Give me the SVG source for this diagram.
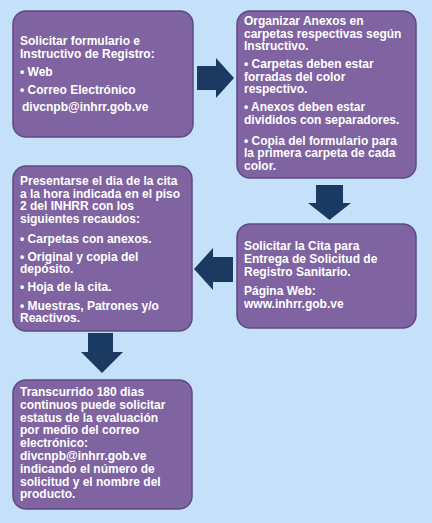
<svg xmlns="http://www.w3.org/2000/svg" width="432" height="523" viewBox="0 0 432 523">
<style>
.box{fill:#8064a2;stroke:#5e4a85;stroke-width:1.5}
.t{font-family:"Liberation Sans",Arial,sans-serif;font-size:12px;font-weight:bold;fill:#ffffff}
.arr{fill:#1a3a62}
</style>
<rect x="0" y="0" width="432" height="523" fill="#c5e1f9"/>
<g id="connectors">
<polygon class="arr" points="197,66 216,66 216,58 234,78 216,98 216,90 197,90"/>
<polygon class="arr" points="316,185 343,185 343,203 351,203 329.5,220 308,203 316,203"/>
<polygon class="arr" points="233,257 213,257 213,248 194,269 213,290 213,282 233,282"/>
<polygon class="arr" points="88,333 113,333 113,352 123,352 102,373 81,352 88,352"/>
</g>
<g id="node1">
<rect class="box" x="13" y="11" width="180" height="126" rx="13"/>
<text class="t"><tspan x="20" y="45">Solicitar formulario e</tspan><tspan x="20" y="57.5">Instructivo de Registro:</tspan><tspan x="20" y="75.5">• Web</tspan><tspan x="20" y="93.5">• Correo Electrónico</tspan><tspan x="22" y="111">divcnpb@inhrr.gob.ve</tspan></text>
</g>
<g id="node2">
<rect class="box" x="237" y="11" width="179" height="167" rx="13"/>
<text class="t"><tspan x="244" y="25">Organizar Anexos en</tspan><tspan x="244" y="37.5">carpetas respectivas según</tspan><tspan x="244" y="50">Instructivo.</tspan><tspan x="244" y="68">• Carpetas deben estar</tspan><tspan x="244" y="80.5">forradas del color</tspan><tspan x="244" y="93">respectivo.</tspan><tspan x="244" y="111">• Anexos deben estar</tspan><tspan x="244" y="123.5">divididos con separadores.</tspan><tspan x="244" y="144.5">• Copia del formulario para</tspan><tspan x="244" y="157">la primera carpeta de cada</tspan><tspan x="244" y="169.5">color.</tspan></text>
</g>
<g id="node3">
<rect class="box" x="13" y="166" width="179" height="165" rx="13"/>
<text class="t"><tspan x="20" y="185">Presentarse el dia de la cita</tspan><tspan x="20" y="197.5">a la hora indicada en el piso</tspan><tspan x="20" y="210">2 del INHRR con los</tspan><tspan x="20" y="222.5">siguientes recaudos:</tspan><tspan x="20" y="242.5">• Carpetas con anexos.</tspan><tspan x="20" y="260.5">• Original  y copia del</tspan><tspan x="20" y="273">depósito.</tspan><tspan x="20" y="291">• Hoja de la cita.</tspan><tspan x="20" y="309.5">• Muestras, Patrones y/o</tspan><tspan x="20" y="322">Reactivos.</tspan></text>
</g>
<g id="node4">
<rect class="box" x="237" y="224" width="179" height="104" rx="13"/>
<text class="t"><tspan x="244" y="250">Solicitar la Cita para</tspan><tspan x="244" y="263">Entrega de Solicitud de</tspan><tspan x="244" y="276">Registro Sanitario.</tspan><tspan x="244" y="295">Página Web:</tspan><tspan x="244" y="307.5">www.inhrr.gob.ve</tspan></text>
</g>
<g id="node5">
<rect class="box" x="13" y="380" width="179" height="129" rx="13"/>
<text class="t"><tspan x="20" y="396">Transcurrido 180 dias</tspan><tspan x="20" y="408.8">continuos puede solicitar</tspan><tspan x="20" y="421.6">estatus de la evaluación</tspan><tspan x="20" y="434.4">por medio del correo</tspan><tspan x="20" y="447.2">electrónico:</tspan><tspan x="20" y="460">divcnpb@inhrr.gob.ve</tspan><tspan x="20" y="472.8">indicando el número de</tspan><tspan x="20" y="485.6">solicitud y el nombre del</tspan><tspan x="20" y="498.4">producto.</tspan></text>
</g>
</svg>
